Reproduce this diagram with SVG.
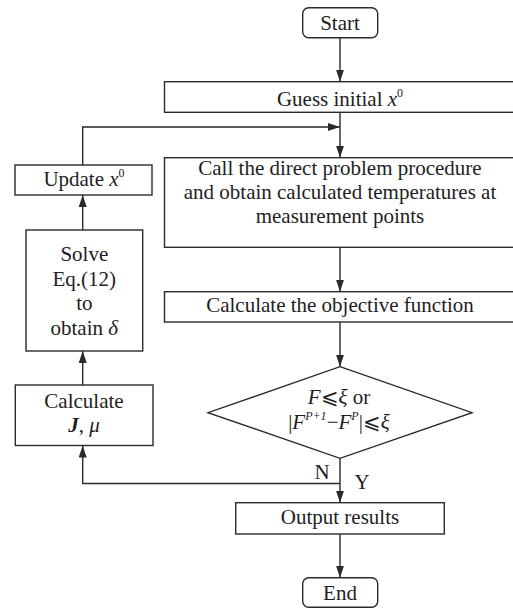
<svg xmlns="http://www.w3.org/2000/svg" width="513" height="611" viewBox="0 0 513 611">
  <defs>
    <marker id="arr" markerWidth="12" markerHeight="8" refX="12" refY="4" orient="auto" markerUnits="userSpaceOnUse">
      <path d="M0,0 L12,4 L0,8 z" fill="#2a2a2a"/>
    </marker>
    <style>
      .box{fill:#fff;stroke:#2a2a2a;stroke-width:1.4}
      .ln{fill:none;stroke:#2a2a2a;stroke-width:1.4}
      text{font-family:"Liberation Serif","Times New Roman","DejaVu Serif",serif;font-size:21px;fill:#1e1e1e;text-anchor:middle}
      .i{font-style:italic}
      .b{font-weight:bold}
      .sup{font-size:12px}
    </style>
  </defs>
  <rect width="513" height="611" fill="#fff"/>

  <!-- connectors -->
  <g id="connectors">
    <line class="ln" x1="340" y1="37.7" x2="340" y2="81.7" marker-end="url(#arr)"/>
    <line class="ln" x1="340" y1="112.3" x2="340" y2="157.7" marker-end="url(#arr)"/>
    <polyline class="ln" points="82.7,165 82.7,127 340,127" marker-end="url(#arr)"/>
    <line class="ln" x1="340" y1="247.3" x2="340" y2="291.7" marker-end="url(#arr)"/>
    <line class="ln" x1="340" y1="322" x2="340" y2="366.7" marker-end="url(#arr)"/>
    <line class="ln" x1="340" y1="458.3" x2="340" y2="502.7" marker-end="url(#arr)"/>
    <polyline class="ln" points="340,483.5 82.7,483.5 82.7,445.5" marker-end="url(#arr)"/>
    <line class="ln" x1="82.7" y1="385" x2="82.7" y2="351" marker-end="url(#arr)"/>
    <line class="ln" x1="82.7" y1="230" x2="82.7" y2="195" marker-end="url(#arr)"/>
    <line class="ln" x1="340" y1="534" x2="340" y2="577.7" marker-end="url(#arr)"/>
    <text x="322" y="478.5">N</text>
    <text x="362" y="488.5">Y</text>
  </g>

  <g id="start">
    <rect class="box" x="302.7" y="7.7" width="75" height="30" rx="6"/>
    <text x="340" y="30">Start</text>
  </g>

  <g id="guess">
    <rect class="box" x="164.5" y="81.7" width="360" height="30.6"/>
    <text x="340" y="105.5">Guess initial <tspan class="i">x</tspan><tspan class="sup" dy="-9">0</tspan></text>
  </g>

  <g id="call">
    <rect class="box" x="164.5" y="157.7" width="360" height="89.6"/>
    <text x="340" y="174.5">Call the direct problem procedure</text>
    <text x="340" y="198.5">and obtain calculated temperatures at</text>
    <text x="340" y="222.5">measurement points</text>
  </g>

  <g id="objective">
    <rect class="box" x="164.5" y="291.7" width="360" height="30.3"/>
    <text x="340" y="311.5">Calculate the objective function</text>
  </g>

  <g id="decision">
    <polygon class="box" points="340,366.7 472,412.7 340,458.3 208,412.7"/>
    <text x="339" y="404"><tspan class="i">F</tspan>⩽<tspan class="i">ξ</tspan> or</text>
    <text x="339" y="428.5">|<tspan class="i">F</tspan><tspan class="sup i" dy="-9">P+1</tspan><tspan dy="9">−</tspan><tspan class="i">F</tspan><tspan class="sup i" dy="-9">P</tspan><tspan dy="9">|⩽</tspan><tspan class="i">ξ</tspan></text>
  </g>

  <g id="output">
    <rect class="box" x="235.7" y="502.7" width="208.6" height="31.3"/>
    <text x="340" y="523.5">Output results</text>
  </g>

  <g id="end">
    <rect class="box" x="302.7" y="577.7" width="75" height="29.6" rx="6"/>
    <text x="340" y="600">End</text>
  </g>

  <g id="update">
    <rect class="box" x="15" y="165" width="137" height="30"/>
    <text x="84" y="186">Update <tspan class="i">x</tspan><tspan class="sup" dy="-9">0</tspan></text>
  </g>

  <g id="solve">
    <rect class="box" x="26" y="230" width="116.7" height="121"/>
    <text x="84.3" y="261">Solve</text>
    <text x="84.3" y="285.5">Eq.(12)</text>
    <text x="84.3" y="310">to</text>
    <text x="84.3" y="334.5">obtain <tspan class="i">δ</tspan></text>
  </g>

  <g id="jacobian">
    <rect class="box" x="15.3" y="385" width="137.7" height="60.5"/>
    <text x="84" y="408">Calculate</text>
    <text x="84" y="432"><tspan class="b i">J</tspan>, <tspan class="i">μ</tspan></text>
  </g>
</svg>
